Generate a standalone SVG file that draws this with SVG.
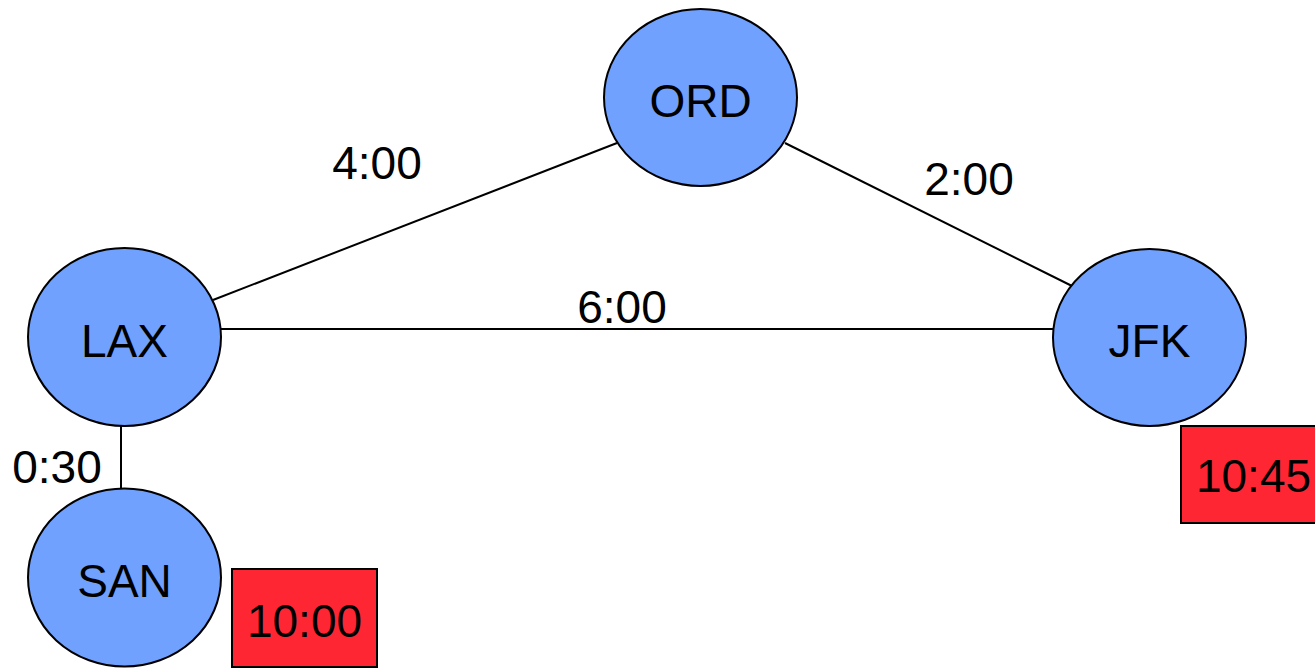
<svg xmlns="http://www.w3.org/2000/svg" width="1315" height="670" viewBox="0 0 1315 670">
<style>
.node{fill:#70A1FF;stroke:#000;stroke-width:2}
.tag{fill:#FF2634;stroke:#000;stroke-width:2}
.edge{stroke:#000;stroke-width:2;fill:none}
text{font-family:"Liberation Sans",Arial,sans-serif;font-size:46px;fill:#000;text-anchor:middle}
</style>
<rect width="1315" height="670" fill="#fff"/>
<g id="connectors">
<line class="edge" x1="213" y1="300" x2="617" y2="143"/>
<line class="edge" x1="785" y1="143" x2="1072" y2="286"/>
<line class="edge" x1="221" y1="329" x2="1053" y2="329"/>
<line class="edge" x1="121" y1="426" x2="121" y2="489"/>
<text x="377" y="179">4:00</text>
<text x="969" y="195">2:00</text>
<text x="622" y="323">6:00</text>
<text x="57" y="483">0:30</text>
</g>
<g id="ORD"><ellipse class="node" cx="700.5" cy="97.5" rx="96.5" ry="88.5"/><text x="700.5" y="117">ORD</text></g>
<g id="LAX"><ellipse class="node" cx="124.5" cy="337" rx="96.5" ry="89"/><text x="124.5" y="357">LAX</text></g>
<g id="JFK"><ellipse class="node" cx="1149.5" cy="337.5" rx="96.5" ry="88.5"/><text x="1149.5" y="357">JFK</text></g>
<g id="SAN"><ellipse class="node" cx="124.5" cy="577.5" rx="96.5" ry="89"/><text x="124.5" y="597">SAN</text></g>
<g id="tag-SAN"><rect class="tag" x="232" y="569" width="145" height="98"/><text x="304.5" y="637">10:00</text></g>
<g id="tag-JFK"><rect class="tag" x="1181" y="426" width="145" height="97"/><text x="1253.5" y="492">10:45</text></g>
</svg>
